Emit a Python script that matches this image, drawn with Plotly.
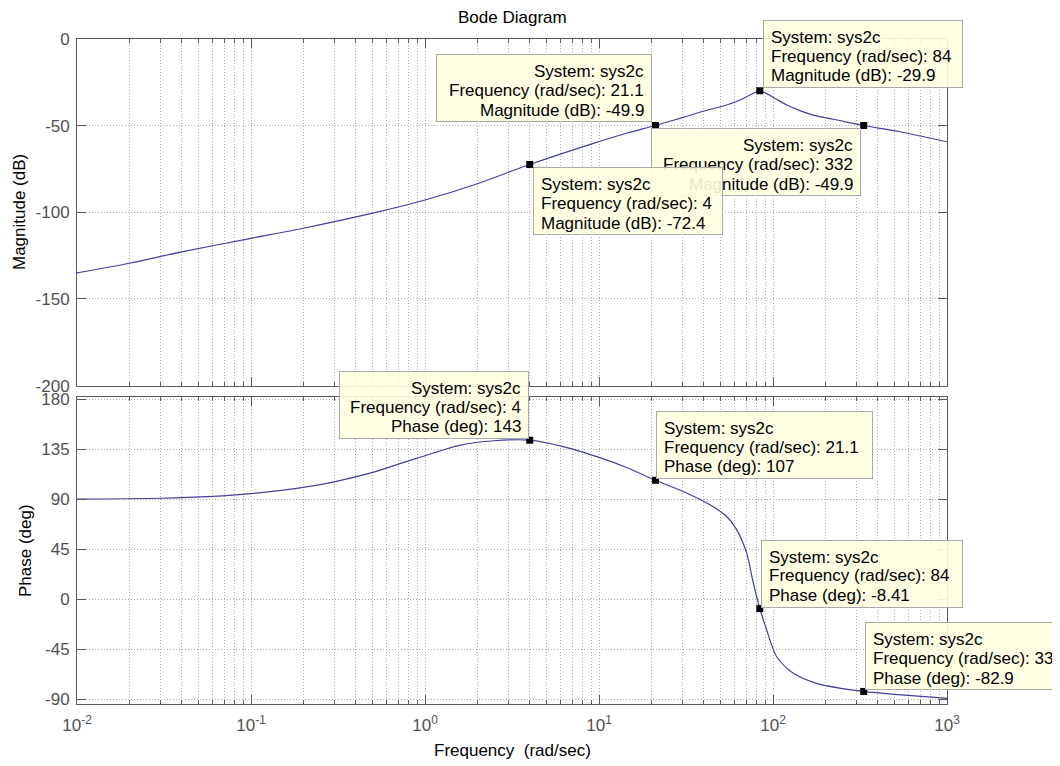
import math
import plotly.graph_objects as go

# ---------------- data ----------------
mag_freq = [0.01, 0.02, 0.04, 0.1, 0.2, 0.5, 1, 2, 4, 9.3, 14.4, 21.1, 30.5, 41.6,
            54.2, 64.6, 73.8, 84, 100, 120, 143, 178, 222, 332, 537, 1000]
mag_db = [-135, -129.4, -122.8, -115, -109.2, -100.5, -92.9, -83.5, -72.4, -60.2, -54.4,
          -49.9, -45.2, -41.1, -38.1, -35.2, -32.3, -29.9, -33.6, -38.1, -41.3, -44.4,
          -46.3, -49.9, -53.5, -59.3]

phase_freq = [0.01, 0.03, 0.06, 0.1, 0.2, 0.31, 0.5, 0.69, 1, 1.6, 2.5, 4, 6.3, 10, 14.4,
              21.1, 30.5, 43.4, 54.2, 61.9, 70.6, 77.1, 84, 92, 105, 131, 178, 332, 1000]
phase_deg = [90, 90.8, 92.5, 95, 100.5, 106, 114, 121, 129, 138.5, 142.5, 143, 137, 127.5,
             118.5, 107, 96.9, 84.9, 74.4, 62.4, 41.4, 14.4, -8.41, -27.6, -51.7, -66.6,
             -75.6, -82.9, -89.1]

# data tips (drawing order)
tip_freq = [21.1, 84, 332, 4]
tip_mag = [-49.9, -29.9, -49.9, -72.4]
tip_phase = [107, -8.41, -82.9, 143]
system_name = "sys2c"

x_tick_vals = [0.01, 0.1, 1, 10, 100, 1000]
x_tick_text = ["10<sup>-2</sup>", "10<sup>-1</sup>", "10<sup>0</sup>",
               "10<sup>1</sup>", "10<sup>2</sup>", "10<sup>3</sup>"]
mag_ticks = [-200, -150, -100, -50, 0]
phase_ticks = [-90, -45, 0, 45, 90, 135, 180]

title_text = "Bode Diagram"
x_title = "Frequency\u00a0 (rad/sec)"
mag_title = "Magnitude (dB)"
phase_title = "Phase (deg)"

# ---------------- styling ----------------
FONT = "Liberation Sans, Arial, sans-serif"
LINE_COLOR = "#40409a"
AXIS_COLOR = "#5a5a5a"
GRID_COLOR = "#ababab"
TICK_FONT = dict(family=FONT, size=17, color="#505050")
TIP_FONT = dict(family=FONT, size=17, color="black")
LABEL_FONT = dict(family=FONT, size=17, color="black")
BOX_BG = "rgba(255,255,225,0.9)"
BOX_BORDER = "#a8a8a8"

minor_vals = [m * 10 ** e for e in range(-2, 3) for m in range(2, 10)]

# the page body has an 8px margin, so the figure is laid out in page pixels minus 8
BODY = 8
PAGE_W, PAGE_H = 1060, 766
W_FIG, H_FIG = PAGE_W - BODY, PAGE_H - BODY
PLOT_L, PLOT_R, PLOT_T, PLOT_B = 77, 947, 39, 704          # page pixels
M_L, M_T = PLOT_L - BODY, PLOT_T - BODY
M_R, M_B = W_FIG - (PLOT_R - BODY), H_FIG - (PLOT_B - BODY)
plot_h = H_FIG - M_T - M_B
plot_w = W_FIG - M_L - M_R


def py(page_y):
    return (PLOT_B - page_y) / plot_h


def px(page_x):
    return (page_x - PLOT_L) / plot_w


top_dom = [py(385.6), 1.0]
bot_dom = [0.0, py(396.7)]

fig = go.Figure()

fig.add_trace(go.Scatter(x=mag_freq, y=mag_db, mode="lines",
                         line=dict(color=LINE_COLOR, width=1.2, shape="spline", smoothing=0.8),
                         xaxis="x", yaxis="y", showlegend=False, hoverinfo="skip"))
fig.add_trace(go.Scatter(x=phase_freq, y=phase_deg, mode="lines",
                         line=dict(color=LINE_COLOR, width=1.2, shape="spline", smoothing=0.8),
                         xaxis="x2", yaxis="y2", showlegend=False, hoverinfo="skip"))
fig.add_trace(go.Scatter(x=tip_freq, y=tip_mag, mode="markers",
                         marker=dict(symbol="square", size=7, color="black"),
                         xaxis="x", yaxis="y", showlegend=False, hoverinfo="skip"))
fig.add_trace(go.Scatter(x=tip_freq, y=tip_phase, mode="markers",
                         marker=dict(symbol="square", size=7, color="black"),
                         xaxis="x2", yaxis="y2", showlegend=False, hoverinfo="skip"))

axis_common = dict(
    showline=True, linecolor=AXIS_COLOR, linewidth=1, mirror="ticks",
    ticks="inside", tickcolor=AXIS_COLOR, ticklen=9,
    showgrid=True, gridcolor=GRID_COLOR, griddash="1px,2px", gridwidth=1,
    zeroline=False, tickfont=TICK_FONT, automargin=False,
)
x_common = dict(axis_common, type="log", range=[-2, 3], tickmode="array",
                tickvals=x_tick_vals,
                minor=dict(tickmode="array", tickvals=minor_vals, ticks="inside", ticklen=4,
                           tickcolor=AXIS_COLOR, showgrid=True, gridcolor=GRID_COLOR,
                           griddash="1px,2px", gridwidth=1))

fig.update_layout(
    width=W_FIG, height=H_FIG,
    margin=dict(l=M_L, r=M_R, t=M_T, b=M_B, autoexpand=False),
    paper_bgcolor="white", plot_bgcolor="white",
    font=dict(family=FONT, color="black"),
    xaxis=dict(x_common, anchor="y", matches="x2", showticklabels=False),
    xaxis2=dict(x_common, anchor="y2", ticktext=x_tick_text, ticklabelstandoff=6),
    yaxis=dict(axis_common, domain=top_dom, range=[-200, 0], tickmode="array",
               tickvals=mag_ticks, ticktext=[str(v) for v in mag_ticks], ticklabelstandoff=3),
    yaxis2=dict(axis_common, domain=bot_dom, range=[-94.2, 182.1], tickmode="array",
                tickvals=phase_ticks, ticktext=[str(v) for v in phase_ticks], ticklabelstandoff=3),
)

# title and axis labels
fig.add_annotation(x=0.5, y=py(17.5), xref="paper", yref="paper", text=title_text,
                   showarrow=False, font=LABEL_FONT, xanchor="center", yanchor="middle")
fig.add_annotation(x=0.5, y=py(750), xref="paper", yref="paper", text=x_title,
                   showarrow=False, font=LABEL_FONT, xanchor="center", yanchor="middle")
fig.add_annotation(x=px(20), y=py(212), xref="paper", yref="paper", text=mag_title,
                   textangle=-90, showarrow=False, font=LABEL_FONT,
                   xanchor="center", yanchor="middle")
fig.add_annotation(x=px(25), y=py(551), xref="paper", yref="paper", text=phase_title,
                   textangle=-90, showarrow=False, font=LABEL_FONT,
                   xanchor="center", yanchor="middle")

BOX_H = 68
PAD = 7
LINE_STEP = 19.3


def add_tip(xa, ya, f, v, vlabel, box_left, box_up, W, gap):
    lx = math.log10(f)
    xanchor = "right" if box_left else "left"
    align = "right" if box_left else "left"
    lines = [f"System: {system_name}", f"Frequency (rad/sec): {f:g}", f"{vlabel}: {v:g}"]
    # box with its first line
    fig.add_annotation(
        x=lx, y=v, xref=xa, yref=ya, text=lines[0], showarrow=False, font=TIP_FONT,
        width=W - 2 - 2 * PAD, height=BOX_H - 2 - 2 * PAD, align=align, valign="top",
        bgcolor=BOX_BG, bordercolor=BOX_BORDER, borderwidth=1, borderpad=PAD,
        xanchor=xanchor, yanchor="bottom" if box_up else "top",
        xshift=-gap if box_left else gap, yshift=gap if box_up else -gap)
    for k in (1, 2):
        if box_up:
            ys = gap + BOX_H - 17 - LINE_STEP * k
        else:
            ys = -(gap + 17 + LINE_STEP * k)
        fig.add_annotation(
            x=lx, y=v, xref=xa, yref=ya, text=lines[k], showarrow=False, font=TIP_FONT,
            borderpad=0, borderwidth=0, align=align,
            xanchor=xanchor, yanchor="middle",
            xshift=-(gap + PAD + 1) if box_left else gap + PAD + 1, yshift=ys)


# magnitude tips: (box extends left?, up?, width)
mag_layout = [(True, True, 216), (False, True, 200), (True, False, 210), (False, False, 190)]
for f, v, (bl, bu, W) in zip(tip_freq, tip_mag, mag_layout):
    add_tip("x", "y", f, v, "Magnitude (dB)", bl, bu, W, 3)

phase_layout = [(False, True, 217), (False, True, 202), (False, True, 212), (True, True, 190)]
for f, v, (bl, bu, W) in zip(tip_freq, tip_phase, phase_layout):
    add_tip("x2", "y2", f, v, "Phase (deg)", bl, bu, W, 1)

fig.write_html("out.html")
